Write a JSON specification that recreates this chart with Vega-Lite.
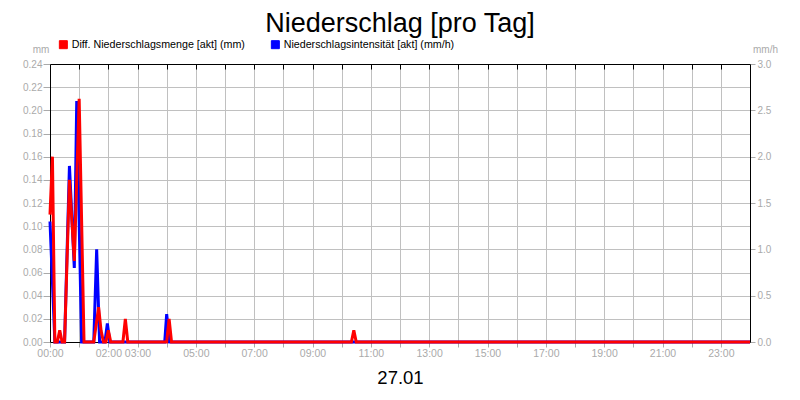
{
  "$schema": "https://vega.github.io/schema/vega-lite/v6.json",
  "width": 700,
  "height": 278,
  "autosize": "none",
  "padding": {"left": 50, "top": 64, "right": 50, "bottom": 58},
  "background": "white",
  "config": {
    "font": "Liberation Sans",
    "view": {"stroke": "black", "strokeWidth": 1},
    "axis": {
      "labelFont": "Liberation Sans",
      "titleFont": "Liberation Sans",
      "labelColor": "#aaaaaa",
      "tickColor": "#aaaaaa",
      "gridColor": "#c0c0c0",
      "gridWidth": 1,
      "domainColor": "black",
      "domainWidth": 1,
      "titleFontWeight": "normal",
      "labelFlush": false
    }
  },
  "title": {
    "text": "Niederschlag [pro Tag]",
    "font": "Liberation Sans",
    "fontSize": 27,
    "fontWeight": "normal",
    "color": "black",
    "anchor": "middle",
    "offset": 1
  },
  "datasets": {
    "menge": [
      {"t": "2025-01-27T00:00:00Z", "mm": 0.11},
      {"t": "2025-01-27T00:05:00Z", "mm": 0.16},
      {"t": "2025-01-27T00:10:00Z", "mm": 0},
      {"t": "2025-01-27T00:15:00Z", "mm": 0},
      {"t": "2025-01-27T00:20:00Z", "mm": 0.01},
      {"t": "2025-01-27T00:25:00Z", "mm": 0},
      {"t": "2025-01-27T00:30:00Z", "mm": 0},
      {"t": "2025-01-27T00:35:00Z", "mm": 0.07},
      {"t": "2025-01-27T00:40:00Z", "mm": 0.14},
      {"t": "2025-01-27T00:45:00Z", "mm": 0.105},
      {"t": "2025-01-27T00:50:00Z", "mm": 0.07},
      {"t": "2025-01-27T00:55:00Z", "mm": 0.14},
      {"t": "2025-01-27T01:00:00Z", "mm": 0.21},
      {"t": "2025-01-27T01:05:00Z", "mm": 0.105},
      {"t": "2025-01-27T01:10:00Z", "mm": 0},
      {"t": "2025-01-27T01:30:00Z", "mm": 0},
      {"t": "2025-01-27T01:35:00Z", "mm": 0.015},
      {"t": "2025-01-27T01:40:00Z", "mm": 0.03},
      {"t": "2025-01-27T01:45:00Z", "mm": 0.01},
      {"t": "2025-01-27T01:50:00Z", "mm": 0},
      {"t": "2025-01-27T01:55:00Z", "mm": 0},
      {"t": "2025-01-27T02:00:00Z", "mm": 0.01},
      {"t": "2025-01-27T02:05:00Z", "mm": 0},
      {"t": "2025-01-27T02:30:00Z", "mm": 0},
      {"t": "2025-01-27T02:35:00Z", "mm": 0.02},
      {"t": "2025-01-27T02:40:00Z", "mm": 0},
      {"t": "2025-01-27T04:00:00Z", "mm": 0},
      {"t": "2025-01-27T04:05:00Z", "mm": 0.02},
      {"t": "2025-01-27T04:10:00Z", "mm": 0},
      {"t": "2025-01-27T10:20:00Z", "mm": 0},
      {"t": "2025-01-27T10:25:00Z", "mm": 0.01},
      {"t": "2025-01-27T10:30:00Z", "mm": 0},
      {"t": "2025-01-28T00:00:00Z", "mm": 0}
    ],
    "intens": [
      {"t": "2025-01-27T00:00:00Z", "mmh": 1.3},
      {"t": "2025-01-27T00:05:00Z", "mmh": 0.65},
      {"t": "2025-01-27T00:10:00Z", "mmh": 0},
      {"t": "2025-01-27T00:30:00Z", "mmh": 0},
      {"t": "2025-01-27T00:35:00Z", "mmh": 0.95},
      {"t": "2025-01-27T00:40:00Z", "mmh": 1.9},
      {"t": "2025-01-27T00:45:00Z", "mmh": 1.35},
      {"t": "2025-01-27T00:50:00Z", "mmh": 0.8},
      {"t": "2025-01-27T00:55:00Z", "mmh": 2.6},
      {"t": "2025-01-27T01:00:00Z", "mmh": 1.3},
      {"t": "2025-01-27T01:05:00Z", "mmh": 0},
      {"t": "2025-01-27T01:30:00Z", "mmh": 0},
      {"t": "2025-01-27T01:36:00Z", "mmh": 1.0},
      {"t": "2025-01-27T01:42:00Z", "mmh": 0},
      {"t": "2025-01-27T01:53:00Z", "mmh": 0},
      {"t": "2025-01-27T01:58:00Z", "mmh": 0.2},
      {"t": "2025-01-27T02:03:00Z", "mmh": 0},
      {"t": "2025-01-27T03:56:00Z", "mmh": 0},
      {"t": "2025-01-27T04:00:00Z", "mmh": 0.3},
      {"t": "2025-01-27T04:06:00Z", "mmh": 0},
      {"t": "2025-01-28T00:00:00Z", "mmh": 0}
    ]
  },
  "layer": [
    {
      "data": {"name": "intens"},
      "mark": {"type": "line", "strokeWidth": 3, "clip": false},
      "encoding": {
        "x": {
          "field": "t",
          "type": "temporal",
          "scale": {"type": "utc", "domain": [1737936000000, 1738022400000]},
          "axis": {
            "orient": "top",
            "labels": false,
            "grid": false,
            "title": null,
            "ticks": true,
            "tickSize": -5,
            "tickColor": "black",
            "values": [1737936000000, 1737939600000, 1737943200000, 1737946800000, 1737950400000, 1737954000000, 1737957600000, 1737961200000, 1737964800000, 1737968400000, 1737972000000, 1737975600000, 1737979200000, 1737982800000, 1737986400000, 1737990000000, 1737993600000, 1737997200000, 1738000800000, 1738004400000, 1738008000000, 1738011600000, 1738015200000, 1738018800000]
          }
        },
        "y": {
          "field": "mmh",
          "type": "quantitative",
          "scale": {"domain": [0, 3], "nice": false},
          "axis": {
            "orient": "right",
            "values": [0, 0.5, 1, 1.5, 2, 2.5, 3],
            "format": ".1f",
            "grid": false,
            "tickSize": 5,
            "labelPadding": 2,
            "labelFontSize": 10,
            "title": "mm/h",
            "titleAngle": 0,
            "titleX": 15,
            "titleY": -12,
            "titleAlign": "center",
            "titleBaseline": "alphabetic",
            "titleFontSize": 10,
            "titleColor": "#aaaaaa"
          }
        },
        "color": {"datum": "Niederschlagsintensität [akt] (mm/h)"}
      }
    },
    {
      "data": {"name": "menge"},
      "mark": {"type": "line", "strokeWidth": 3, "clip": false},
      "encoding": {
        "x": {
          "field": "t",
          "type": "temporal",
          "axis": {
            "orient": "bottom",
            "grid": true,
            "tickSize": 5,
            "labelPadding": 1,
            "labelFontSize": 10.5,
            "labelAngle": 0,
            "labelOverlap": false,
            "labelFlush": false,
            "values": [1737936000000, 1737939600000, 1737943200000, 1737946800000, 1737950400000, 1737954000000, 1737957600000, 1737961200000, 1737964800000, 1737968400000, 1737972000000, 1737975600000, 1737979200000, 1737982800000, 1737986400000, 1737990000000, 1737993600000, 1737997200000, 1738000800000, 1738004400000, 1738008000000, 1738011600000, 1738015200000, 1738018800000],
            "labelExpr": "indexof([0,2,3,5,7,9,11,13,15,17,19,21,23], utchours(datum.value)) >= 0 ? utcFormat(datum.value, '%H:%M') : ''",
            "title": "27.01",
            "titleFontSize": 18.5,
            "titleColor": "black",
            "titleBaseline": "alphabetic",
            "titleX": 350,
            "titleY": 41,
            "titleAlign": "center"
          }
        },
        "y": {
          "field": "mm",
          "type": "quantitative",
          "scale": {"domain": [0, 0.24], "nice": false},
          "axis": {
            "orient": "left",
            "values": [0, 0.02, 0.04, 0.06, 0.08, 0.1, 0.12, 0.14, 0.16, 0.18, 0.2, 0.22, 0.24],
            "format": ".2f",
            "grid": true,
            "tickSize": 7,
            "labelPadding": 1,
            "labelFontSize": 10,
            "title": "mm",
            "titleAngle": 0,
            "titleX": -9.5,
            "titleY": -12,
            "titleAlign": "center",
            "titleBaseline": "alphabetic",
            "titleFontSize": 10,
            "titleColor": "#aaaaaa"
          }
        },
        "color": {
          "datum": "Diff. Niederschlagsmenge [akt] (mm)",
          "scale": {
            "domain": ["Diff. Niederschlagsmenge [akt] (mm)", "Niederschlagsintensität [akt] (mm/h)"],
            "range": ["#ff0000", "#0000ff"]
          },
          "legend": {
            "title": null,
            "orient": "none",
            "legendX": 8,
            "legendY": -25,
            "direction": "horizontal",
            "symbolType": "square",
            "symbolSize": 64,
            "symbolStrokeWidth": 1,
            "labelFontSize": 10.7,
            "labelFont": "Liberation Sans",
            "labelColor": "black",
            "labelOffset": 3,
            "columnPadding": 24,
            "labelLimit": 400,
            "encode": {
              "symbols": {
                "update": {
                  "fill": {"scale": "color", "field": "value"},
                  "stroke": {"value": "#333333"},
                  "strokeWidth": {"value": 1}
                }
              }
            }
          }
        }
      }
    }
  ],
  "resolve": {
    "scale": {"y": "independent"},
    "axis": {"y": "independent", "x": "independent"}
  }
}
